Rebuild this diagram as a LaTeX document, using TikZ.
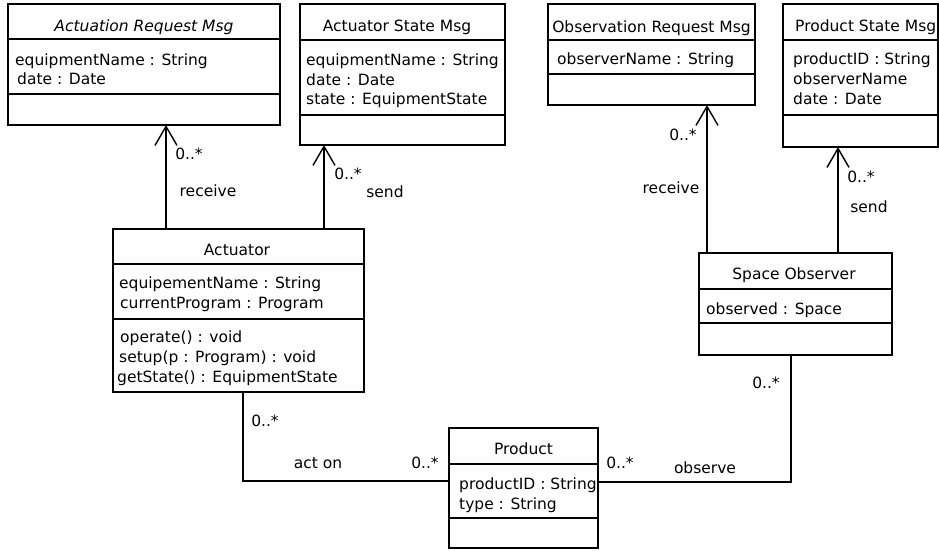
\documentclass[tikz,border=0pt]{standalone}
\usepackage{fontspec}
\setmainfont{DejaVu Sans}
\usetikzlibrary{arrows.meta}
\begin{document}
\begin{tikzpicture}[x=1pt,y=-1pt, font=\fontsize{15.5}{20}\selectfont,
  cls/.style={draw, line width=1.4pt, inner sep=0, outer sep=0, anchor=north west},
  divider/.style={line width=1.1pt},
  txt/.style={anchor=base west, inner sep=0},
  ttl/.style={anchor=base, inner sep=0},
  lbl/.style={anchor=base, inner sep=0},
  assoc/.style={line width=1.4pt},
  nav/.style={line width=1.4pt, -{Straight Barb[length=19pt,width=22pt,line width=1.4pt]}}]
\useasboundingbox (0,0) rectangle (939,550);

% Actuation Request Msg
\node[cls, minimum width=272pt, minimum height=121pt] (arm) at (8,4) {};
\draw[divider] ([yshift=-35pt]arm.north west) -- ([yshift=-35pt]arm.north east);
\draw[divider] ([yshift=-90pt]arm.north west) -- ([yshift=-90pt]arm.north east);
\node[ttl] (armt) at (144,31) {\itshape Actuation Request Msg};
\node[txt] (arma1) at (15,65) {equipmentName : String};
\node[txt] (arma2) at (17,84) {date : Date};

% Actuator State Msg
\node[cls, minimum width=205pt, minimum height=141pt] (asm) at (300,4) {};
\draw[divider] ([yshift=-36pt]asm.north west) -- ([yshift=-36pt]asm.north east);
\draw[divider] ([yshift=-111pt]asm.north west) -- ([yshift=-111pt]asm.north east);
\node[ttl] (asmt) at (397,31) {Actuator State Msg};
\node[txt] (asma1) at (306,65) {equipmentName : String};
\node[txt] (asma2) at (306,85) {date : Date};
\node[txt] (asma3) at (306,104) {state : EquipmentState};

% Observation Request Msg
\node[cls, minimum width=207pt, minimum height=101pt] (orm) at (548,4) {};
\draw[divider] ([yshift=-36pt]orm.north west) -- ([yshift=-36pt]orm.north east);
\draw[divider] ([yshift=-70pt]orm.north west) -- ([yshift=-70pt]orm.north east);
\node[ttl] (ormt) at (651.5,32) {Observation Request Msg};
\node[txt] (orma1) at (557,64) {observerName : String};

% Product State Msg
\node[cls, minimum width=155pt, minimum height=143pt] (psm) at (783,4) {};
\draw[divider] ([yshift=-36pt]psm.north west) -- ([yshift=-36pt]psm.north east);
\draw[divider] ([yshift=-111pt]psm.north west) -- ([yshift=-111pt]psm.north east);
\node[txt] (psmt) at (795,31) {Product State Msg};
\node[txt] (psma1) at (793,64) {productID : String};
\node[txt] (psma2) at (793,84) {observerName};
\node[txt] (psma3) at (793,104) {date : Date};

% Actuator
\node[cls, minimum width=251pt, minimum height=163pt] (act) at (113,229) {};
\draw[divider] ([yshift=-35pt]act.north west) -- ([yshift=-35pt]act.north east);
\draw[divider] ([yshift=-90pt]act.north west) -- ([yshift=-90pt]act.north east);
\node[ttl] (actt) at (237,255) {Actuator};
\node[txt] (acta1) at (119,288) {equipementName : String};
\node[txt] (acta2) at (120,308) {currentProgram : Program};
\node[txt] (acto1) at (120,342) {operate() : void};
\node[txt] (acto2) at (119,362) {setup(p : Program) : void};
\node[txt] (acto3) at (117,382) {getState() : EquipmentState};

% Space Observer
\node[cls, minimum width=193pt, minimum height=102pt] (so) at (699,253) {};
\draw[divider] ([yshift=-36pt]so.north west) -- ([yshift=-36pt]so.north east);
\draw[divider] ([yshift=-70pt]so.north west) -- ([yshift=-70pt]so.north east);
\node[ttl] (sot) at (794,279) {Space Observer};
\node[txt] (soa1) at (706,314) {observed : Space};

% Product
\node[cls, minimum width=149pt, minimum height=120pt] (prod) at (449,428) {};
\draw[divider] ([yshift=-36pt]prod.north west) -- ([yshift=-36pt]prod.north east);
\draw[divider] ([yshift=-90pt]prod.north west) -- ([yshift=-90pt]prod.north east);
\node[ttl] (prodt) at (523.5,454) {Product};
\node[txt] (proda1) at (459,489) {productID : String};
\node[txt] (proda2) at (459,509) {type : String};

% Connectors
\draw[nav] ([xshift=53pt]act.north west) -- ([xshift=158pt]arm.south west);
\draw[nav] ([xshift=211pt]act.north west) -- ([xshift=24pt]asm.south west);
\draw[nav] ([xshift=8pt]so.north west) -- ([xshift=159pt]orm.south west);
\draw[nav] ([xshift=139pt]so.north west) -- ([xshift=55pt]psm.south west);
\draw[assoc] ([xshift=130pt]act.south west) |- ([yshift=-53pt]prod.north west);
\draw[assoc] ([xshift=92pt]so.south west) |- ([yshift=-54pt]prod.north east);

% Labels
\node[lbl] (l1) at (189,159) {0..*};
\node[lbl] (l2) at (208,196) {receive};
\node[lbl] (l3) at (348,179) {0..*};
\node[lbl] (l4) at (385,197) {send};
\node[lbl] (l5) at (683,140) {0..*};
\node[lbl] (l6) at (671,193) {receive};
\node[lbl] (l7) at (861,182) {0..*};
\node[lbl] (l8) at (869,212) {send};
\node[lbl] (l9) at (265,426) {0..*};
\node[lbl] (l10) at (318,468) {act on};
\node[lbl] (l11) at (425,468) {0..*};
\node[lbl] (l12) at (620,468) {0..*};
\node[lbl] (l13) at (705,473) {observe};
\node[lbl] (l14) at (766,388) {0..*};
\end{tikzpicture}
\end{document}
